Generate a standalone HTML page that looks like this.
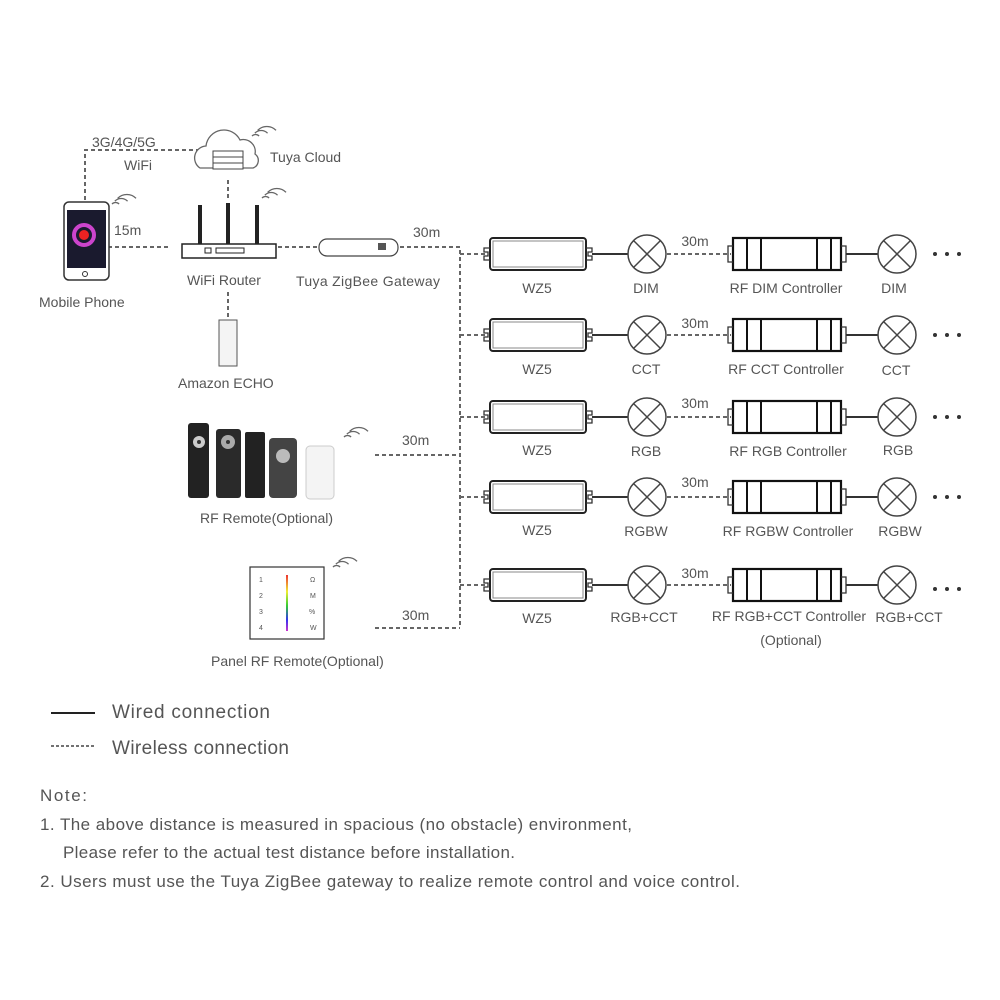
<!DOCTYPE html>
<html><head><meta charset="utf-8"><style>
body{margin:0;background:#fff}
svg{display:block}
text{font-family:"Liberation Sans",sans-serif;fill:#555;font-size:14px}
</style></head><body>
<svg width="1000" height="1000" viewBox="0 0 1000 1000">
<defs>
<g id="wz">
<rect x="0" y="-16" width="96" height="32" rx="3" fill="#fff" stroke="#222" stroke-width="2"/>
<rect x="3" y="-13" width="90" height="26" fill="none" stroke="#888" stroke-width="1"/>
<path d="M0,-6 h-6 v4 h4 v4 h-4 v4 h6 M96,-6 h6 v4 h-4 v4 h4 v4 h-6" fill="none" stroke="#333" stroke-width="1.3"/>
</g>
<g id="rf">
<rect x="0" y="-16" width="108" height="32" fill="#fff" stroke="#111" stroke-width="2.2"/>
<line x1="14" y1="-16" x2="14" y2="16" stroke="#111" stroke-width="2"/>
<line x1="28" y1="-16" x2="28" y2="16" stroke="#111" stroke-width="2"/>
<line x1="84" y1="-16" x2="84" y2="16" stroke="#111" stroke-width="2"/>
<line x1="98" y1="-16" x2="98" y2="16" stroke="#111" stroke-width="2"/>
<path d="M0,-8 h-5 v16 h5 M108,-8 h5 v16 h-5" fill="none" stroke="#333" stroke-width="1.3"/>
</g>
<g id="lamp">
<circle r="19" fill="#fff" stroke="#444" stroke-width="1.5"/>
<path d="M-13.4,-13.4 L13.4,13.4 M13.4,-13.4 L-13.4,13.4" stroke="#444" stroke-width="1.5"/>
</g>
<g id="wave"><path d="M0,0 a5,5 0 0 1 5,-5 M0,-4 a9,9 0 0 1 9,-9 M0,-8 a13,13 0 0 1 13,-13" transform="rotate(45)" fill="none" stroke="#666" stroke-width="1.3"/></g>
</defs>
<g stroke="#666" stroke-width="2" stroke-dasharray="4,3" fill="none">
<path d="M85,200 V150 H200"/>
<path d="M228,180 V200"/>
<path d="M108,247 H168"/>
<path d="M278,247 H318"/>
<path d="M400,247 H460 V628"/>
<path d="M228,292 V318"/>
<path d="M375,455 H460"/>
<path d="M375,628 H460"/>
<path d="M460,254 H485 M460,335 H485 M460,417 H485 M460,497 H485 M460,585 H485"/>
<path d="M667,254 H731 M667,335 H731 M667,417 H731 M667,497 H731 M667,585 H731"/>
</g>
<!-- phone -->
<rect x="64" y="202" width="45" height="78" rx="5" fill="#fff" stroke="#333" stroke-width="1.5"/>
<rect x="67" y="210" width="39" height="58" fill="#1a1a2e"/>
<circle cx="84" cy="235" r="10" fill="none" stroke="#c4c" stroke-width="4"/>
<circle cx="84" cy="235" r="5" fill="#e22"/>
<circle cx="85" cy="274" r="2.5" fill="none" stroke="#333"/>
<use href="#wave" x="112" y="204"/>
<text x="39" y="307">Mobile Phone</text>
<text x="114" y="235">15m</text>
<text x="92" y="147">3G/4G/5G</text>
<text x="124" y="170">WiFi</text>
<!-- cloud -->
<path d="M200,168 a12,12 0 0 1 6,-22 a18,18 0 0 1 34,-6 a12,12 0 0 1 15,14 a8,8 0 0 1 -2,14 z" fill="#fff" stroke="#666" stroke-width="1.3"/>
<rect x="213" y="151" width="30" height="6" fill="#fff" stroke="#444"/>
<rect x="213" y="157" width="30" height="6" fill="#fff" stroke="#444"/>
<rect x="213" y="163" width="30" height="6" fill="#fff" stroke="#444"/>
<use href="#wave" x="252" y="136"/>
<text x="270" y="162">Tuya Cloud</text>
<!-- router -->
<path d="M200,244 V205 M228,244 V203 M257,244 V205" stroke="#222" stroke-width="4"/>
<rect x="182" y="244" width="94" height="14" fill="#fff" stroke="#222" stroke-width="1.5"/>
<rect x="205" y="248" width="6" height="5" fill="none" stroke="#222"/>
<rect x="216" y="248" width="28" height="5" fill="none" stroke="#222"/>
<use href="#wave" x="262" y="198"/>
<text x="187" y="285">WiFi Router</text>
<!-- gateway -->
<rect x="319" y="239" width="79" height="17" rx="8" fill="#fff" stroke="#444" stroke-width="1.2"/>
<rect x="378" y="243" width="8" height="7" fill="#555"/>
<text x="296" y="286" textLength="144">Tuya ZigBee Gateway</text>
<text x="413" y="237">30m</text>
<!-- echo -->
<rect x="219" y="320" width="18" height="46" fill="#f4f4f4" stroke="#555"/>
<text x="178" y="388">Amazon ECHO</text>
<!-- remotes -->
<rect x="188" y="423" width="21" height="75" rx="3" fill="#222"/>
<rect x="216" y="429" width="25" height="69" rx="3" fill="#2a2a2a"/>
<rect x="245" y="432" width="20" height="66" rx="2" fill="#222"/>
<rect x="269" y="438" width="28" height="60" rx="4" fill="#444"/>
<rect x="306" y="446" width="28" height="53" rx="4" fill="#f4f4f4" stroke="#ccc"/>
<circle cx="199" cy="442" r="6" fill="#ccc"/><circle cx="199" cy="442" r="2" fill="#333"/>
<circle cx="228" cy="442" r="7" fill="#aaa"/><circle cx="228" cy="442" r="2" fill="#333"/>
<circle cx="283" cy="456" r="7" fill="#bbb"/>
<use href="#wave" x="344" y="437"/>
<text x="200" y="523">RF Remote(Optional)</text>
<text x="402" y="445">30m</text>
<!-- panel -->
<rect x="250" y="567" width="74" height="72" fill="#fff" stroke="#333" stroke-width="1.2"/>
<defs><linearGradient id="rb" x1="0" y1="0" x2="0" y2="1"><stop offset="0" stop-color="#e33"/><stop offset=".3" stop-color="#ee3"/><stop offset=".55" stop-color="#3c3"/><stop offset=".8" stop-color="#33e"/><stop offset="1" stop-color="#c3c"/></linearGradient></defs>
<rect x="286" y="575" width="2" height="56" fill="url(#rb)"/>
<text x="259" y="582" style="font-size:7px">1</text><text x="259" y="598" style="font-size:7px">2</text><text x="259" y="614" style="font-size:7px">3</text><text x="259" y="630" style="font-size:7px">4</text>
<text x="310" y="582" style="font-size:7px">Ω</text><text x="310" y="598" style="font-size:7px">M</text><text x="309" y="614" style="font-size:7px">%</text><text x="310" y="630" style="font-size:7px">W</text>
<use href="#wave" x="333" y="567"/>
<text x="211" y="666">Panel RF Remote(Optional)</text>
<text x="402" y="620">30m</text>
<!-- rows -->
<g transform="translate(0,254)"><use href="#wz" x="490"/><line x1="592" x2="628" stroke="#333" stroke-width="2"/><use href="#lamp" x="647"/><use href="#rf" x="733"/><line x1="846" x2="878" stroke="#333" stroke-width="2"/><use href="#lamp" x="897"/></g>
<g transform="translate(0,335)"><use href="#wz" x="490"/><line x1="592" x2="628" stroke="#333" stroke-width="2"/><use href="#lamp" x="647"/><use href="#rf" x="733"/><line x1="846" x2="878" stroke="#333" stroke-width="2"/><use href="#lamp" x="897"/></g>
<g transform="translate(0,417)"><use href="#wz" x="490"/><line x1="592" x2="628" stroke="#333" stroke-width="2"/><use href="#lamp" x="647"/><use href="#rf" x="733"/><line x1="846" x2="878" stroke="#333" stroke-width="2"/><use href="#lamp" x="897"/></g>
<g transform="translate(0,497)"><use href="#wz" x="490"/><line x1="592" x2="628" stroke="#333" stroke-width="2"/><use href="#lamp" x="647"/><use href="#rf" x="733"/><line x1="846" x2="878" stroke="#333" stroke-width="2"/><use href="#lamp" x="897"/></g>
<g transform="translate(0,585)"><use href="#wz" x="490"/><line x1="592" x2="628" stroke="#333" stroke-width="2"/><use href="#lamp" x="647"/><use href="#rf" x="733"/><line x1="846" x2="878" stroke="#333" stroke-width="2"/><use href="#lamp" x="897"/></g>
<g fill="#333">
<circle cx="935" cy="254" r="2"/><circle cx="947" cy="254" r="2"/><circle cx="959" cy="254" r="2"/>
<circle cx="935" cy="335" r="2"/><circle cx="947" cy="335" r="2"/><circle cx="959" cy="335" r="2"/>
<circle cx="935" cy="417" r="2"/><circle cx="947" cy="417" r="2"/><circle cx="959" cy="417" r="2"/>
<circle cx="935" cy="497" r="2"/><circle cx="947" cy="497" r="2"/><circle cx="959" cy="497" r="2"/>
<circle cx="935" cy="589" r="2"/><circle cx="947" cy="589" r="2"/><circle cx="959" cy="589" r="2"/>
</g>
<g text-anchor="middle">
<text x="537" y="293">WZ5</text><text x="646" y="293">DIM</text><text x="786" y="293">RF DIM Controller</text><text x="894" y="293">DIM</text><text x="695" y="246">30m</text>
<text x="537" y="374">WZ5</text><text x="646" y="374">CCT</text><text x="786" y="374">RF CCT Controller</text><text x="896" y="375">CCT</text><text x="695" y="328">30m</text>
<text x="537" y="455">WZ5</text><text x="646" y="456">RGB</text><text x="788" y="456">RF RGB Controller</text><text x="898" y="455">RGB</text><text x="695" y="408">30m</text>
<text x="537" y="535">WZ5</text><text x="646" y="536">RGBW</text><text x="788" y="536">RF RGBW Controller</text><text x="900" y="536">RGBW</text><text x="695" y="487">30m</text>
<text x="537" y="623">WZ5</text><text x="644" y="622">RGB+CCT</text><text x="789" y="621">RF RGB+CCT Controller</text><text x="791" y="645">(Optional)</text><text x="909" y="622">RGB+CCT</text><text x="695" y="578">30m</text>
</g>
<!-- legend -->
<line x1="51" y1="713" x2="95" y2="713" stroke="#222" stroke-width="2"/>
<line x1="51" y1="746" x2="95" y2="746" stroke="#444" stroke-width="1.5" stroke-dasharray="3,2"/>
<text x="112" y="718" style="font-size:19px" textLength="158">Wired connection</text>
<text x="112" y="754" style="font-size:19px" textLength="177">Wireless connection</text>
<text x="40" y="801" style="font-size:17px" textLength="47">Note:</text>
<text x="40" y="830" style="font-size:17px" textLength="592">1. The above distance is measured in spacious (no obstacle) environment,</text>
<text x="63" y="858" style="font-size:17px" textLength="452">Please refer to the actual test distance before installation.</text>
<text x="40" y="887" style="font-size:17px" textLength="700">2. Users must use the Tuya ZigBee gateway to realize remote control and voice control.</text>
</svg>
</body></html>
